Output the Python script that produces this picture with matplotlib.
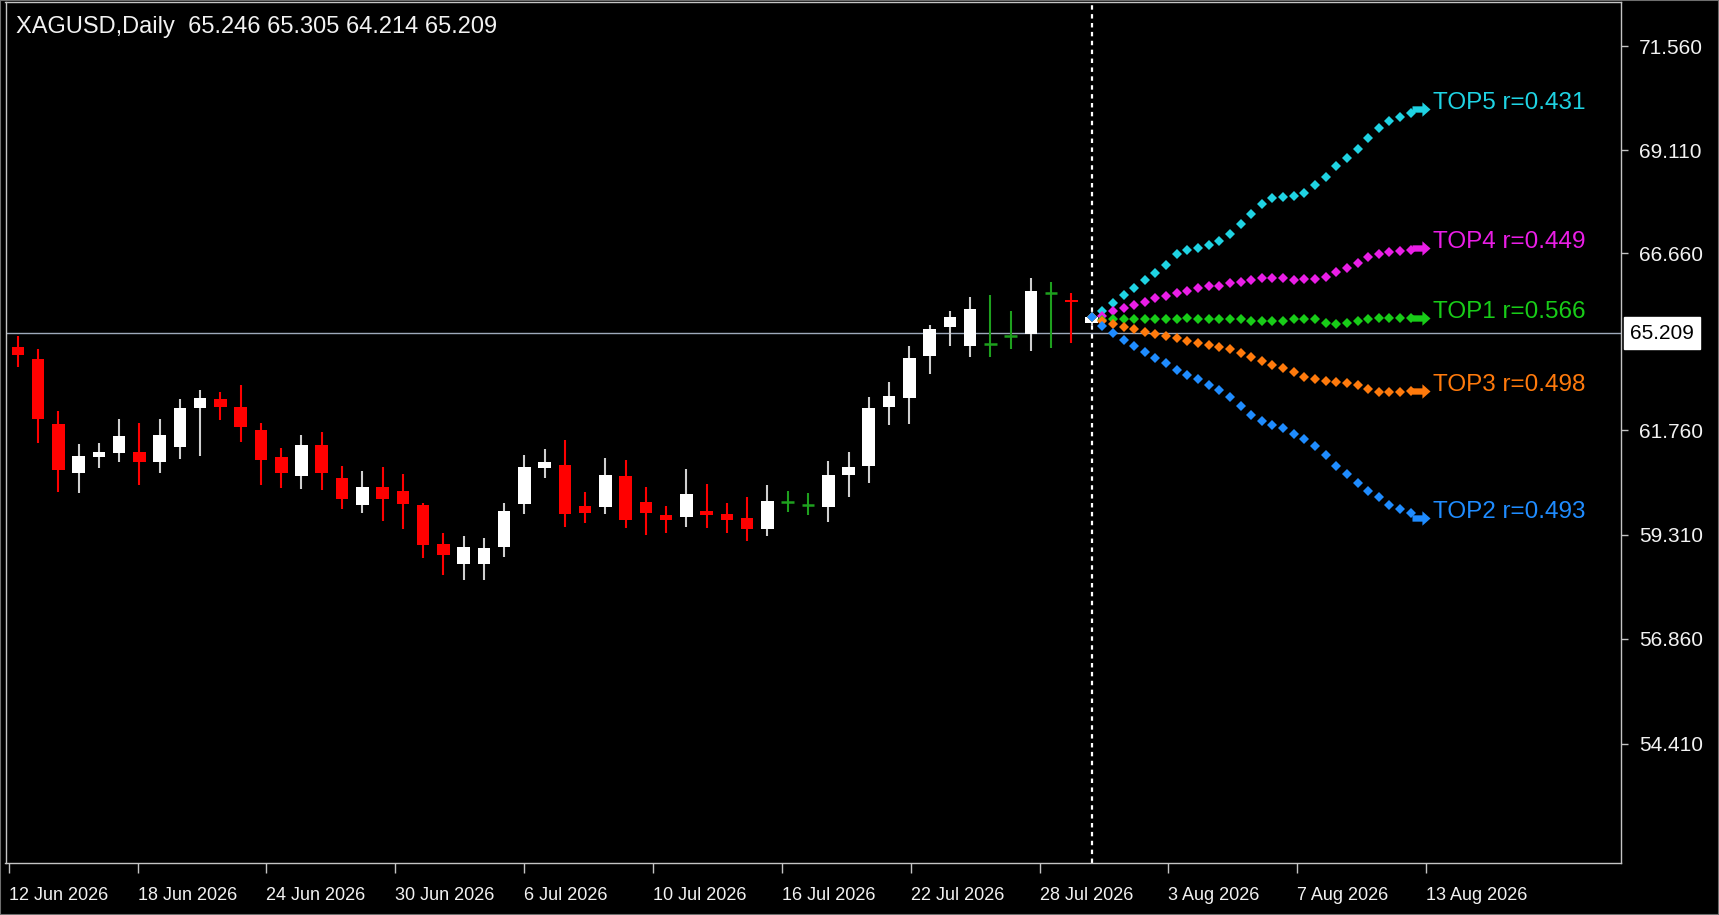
import numpy as np
import matplotlib
matplotlib.use("Agg")
import matplotlib.pyplot as plt
from matplotlib.path import Path
from matplotlib.patches import Rectangle

# ---- data --------------------------------------------------------------
title = "XAGUSD,Daily  65.246 65.305 64.214 65.209"
last_price = 65.209

date_labels = ["12 Jun 2026", "18 Jun 2026", "24 Jun 2026", "30 Jun 2026",
               "6 Jul 2026", "10 Jul 2026", "16 Jul 2026", "22 Jul 2026",
               "28 Jul 2026", "3 Aug 2026", "7 Aug 2026", "13 Aug 2026"]

y_ticks = [54.41, 56.86, 59.31, 61.76, 66.66, 69.11, 71.56]

opens = [64.72, 64.28, 61.96, 60.76, 61.14, 61.23, 61.25, 61.02, 61.36, 62.53,
         62.86, 62.57, 61.76, 61.14, 60.69, 61.41, 60.63, 60.01, 60.42, 60.34,
         60.01, 59.09, 58.63, 58.63, 59.03, 60.03, 60.87, 60.94, 59.99, 59.97,
         60.69, 60.09, 59.78, 59.72, 59.88, 59.79, 59.71, 59.44, 60.09, 60.00,
         59.97, 60.70, 60.93, 62.58, 62.89, 64.39, 65.32, 64.75, 64.82, 65.12,
         65.17, 65.93, 65.81, 65.40]
highs = [65.10, 64.63, 62.45, 61.43, 61.46, 62.15, 62.00, 62.14, 62.86, 63.18,
         63.12, 63.36, 62.02, 61.33, 61.64, 61.71, 60.93, 60.81, 60.90, 60.73,
         60.05, 59.35, 59.29, 59.23, 60.06, 61.18, 61.31, 61.53, 60.32, 61.11,
         61.06, 60.42, 59.99, 60.84, 60.50, 60.06, 60.20, 60.47, 60.34, 60.30,
         61.04, 61.25, 62.92, 63.48, 64.75, 65.35, 65.60, 65.87, 65.90, 65.60,
         66.20, 66.14, 65.94, 65.57]
lows = [64.00, 61.45, 60.32, 60.28, 60.87, 61.01, 60.48, 60.76, 61.08, 61.15,
        62.12, 61.49, 60.48, 60.40, 60.38, 60.36, 59.91, 59.82, 59.64, 59.44,
        58.76, 58.37, 58.25, 58.25, 58.80, 59.80, 60.65, 59.50, 59.58, 59.79,
        59.48, 59.31, 59.36, 59.50, 59.47, 59.36, 59.17, 59.29, 59.84, 59.78,
        59.61, 60.20, 60.53, 61.94, 61.97, 63.74, 64.75, 64.37, 64.37, 64.63,
        64.58, 64.67, 64.84, 65.35]
closes = [64.43, 62.14, 60.83, 61.15, 61.24, 61.61, 61.02, 61.65, 62.53, 62.89,
          62.57, 61.88, 61.06, 60.75, 61.41, 60.75, 60.15, 60.44, 60.14, 60.03,
          59.07, 58.84, 59.03, 59.01, 59.87, 60.90, 61.01, 59.79, 59.83, 60.71,
          59.66, 59.82, 59.66, 60.27, 59.78, 59.66, 59.45, 60.10, 60.09, 60.00,
          60.71, 60.90, 62.54, 62.96, 64.31, 65.28, 65.50, 65.64, 64.82, 65.12,
          65.97, 65.93, 65.78, 65.50]

# forecast paths (after the last bar)
top5 = [65.60, 65.75, 65.90, 66.03, 66.17, 66.30, 66.44, 66.64, 66.73, 66.79,
        66.85, 66.95, 67.12, 67.35, 67.58, 67.83, 67.96, 68.00, 68.02, 68.10,
        68.28, 68.47, 68.74, 68.93, 69.13, 69.39, 69.64, 69.80, 69.89, 69.99,
        70.09]
top4 = [65.52, 65.60, 65.66, 65.72, 65.78, 65.84, 65.89, 65.93, 65.97, 66.02,
        66.06, 66.07, 66.11, 66.14, 66.17, 66.21, 66.21, 66.20, 66.18, 66.19,
        66.19, 66.23, 66.31, 66.39, 66.48, 66.58, 66.64, 66.68, 66.71, 66.73,
        66.77]
top1 = [65.45, 65.46, 65.46, 65.46, 65.46, 65.46, 65.46, 65.46, 65.48, 65.46,
        65.46, 65.46, 65.46, 65.46, 65.43, 65.42, 65.42, 65.43, 65.46, 65.46,
        65.46, 65.40, 65.38, 65.39, 65.43, 65.46, 65.49, 65.49, 65.49, 65.49,
        65.49]
top3 = [65.43, 65.37, 65.32, 65.28, 65.23, 65.18, 65.11, 65.02, 64.94, 64.86,
        64.78, 64.71, 64.63, 64.49, 64.37, 64.22, 64.08, 63.95, 63.81, 63.66,
        63.57, 63.51, 63.48, 63.44, 63.35, 63.23, 63.12, 63.10, 63.11, 63.14,
        63.16]
top2 = [65.34, 65.21, 64.96, 64.75, 64.52, 64.32, 64.13, 63.91, 63.72, 63.57,
        63.36, 63.18, 62.93, 62.61, 62.29, 62.09, 61.94, 61.82, 61.67, 61.54,
        61.39, 61.18, 60.92, 60.73, 60.53, 60.34, 60.20, 60.01, 59.91, 59.82,
        59.70]

fc_names = ["TOP5", "TOP4", "TOP1", "TOP3", "TOP2"]
fc_r = [0.431, 0.449, 0.566, 0.498, 0.493]
fc_series = [top5, top4, top1, top3, top2]
fc_colors = ["#1fd3e3", "#ea1ee6", "#18cc18", "#ff7a0c", "#1f8cff"]

# ---- price scale of the screenshot (not linear around the bid line) -----
scale_vals = [54.41, 56.86, 59.31, 61.76, 65.209, 66.66, 69.11, 71.56]
scale_px = [-744, -639, -535, -430, -333, -253, -150, -46]


def _pw(v, xp, fp):
    v = np.asarray(v, dtype=float)
    out = np.interp(v, xp, fp)
    lo = (fp[1] - fp[0]) / (xp[1] - xp[0])
    hi = (fp[-1] - fp[-2]) / (xp[-1] - xp[-2])
    out = np.where(v < xp[0], fp[0] + (v - xp[0]) * lo, out)
    out = np.where(v > xp[-1], fp[-1] + (v - xp[-1]) * hi, out)
    return out


def fwd(v):
    return _pw(v, scale_vals, scale_px)


def inv(p):
    return _pw(p, scale_px, scale_vals)


plt.rcParams["font.family"] = ["Liberation Sans", "DejaVu Sans"]

W, H = 1719, 915
fig = plt.figure(figsize=(W / 100, H / 100), dpi=100, facecolor="black")
ax = fig.add_axes([5.5 / W, 1 - 863 / H, (1621 - 5.5) / W, (863 - 2) / H])
ax.set_facecolor("black")
ax.set_yscale("function", functions=(fwd, inv))

o, h, l, c = map(np.array, (opens, highs, lows, closes))
x = np.arange(len(c))
up, dn, eq = c > o, c < o, c == o
body_w = 0.62

wick_cols = np.where(up, "#cfcfcf", np.where(dn, "#ff0000", "#1ea01e"))
ax.vlines(x, l, h, colors=wick_cols, lw=1.5, zorder=2)
ax.bar(x[up], (c - o)[up], bottom=o[up], width=body_w, color="white", lw=0, zorder=3)
ax.bar(x[dn], (o - c)[dn], bottom=c[dn], width=body_w, color="#ff0000", lw=0, zorder=3)
ax.hlines(c[eq], x[eq] - body_w / 2, x[eq] + body_w / 2, colors="#1ea01e", lw=1.8, zorder=3)

# bid line and the separator at the current bar
ax.axhline(last_price, color="#9ea9bb", lw=1, zorder=1)
ax.axvline(x[-1], color="white", lw=1.6, ls=(0, (2, 2)), zorder=1)

# forecast dots
arrow = Path([(-1, -0.35), (0.1, -0.35), (0.1, -0.8), (1, 0), (0.1, 0.8),
              (0.1, 0.35), (-1, 0.35), (-1, -0.35)], closed=True)
fx = x[-1] + 0.525 * np.arange(len(top1) + 1)
for name, r, vals, col in zip(fc_names, fc_r, fc_series, fc_colors):
    y = np.r_[c[-1], vals]
    ax.plot(fx[:-1], y[:-1], ls="none", marker="D", ms=4.8, color=col, mew=0, zorder=4)
    ax.plot(fx[-1], y[-1], ls="none", marker=arrow, ms=13, color=col, mew=0, zorder=4)
    ax.annotate(f"{name} r={r:.3f}", (fx[-1], y[-1]), xytext=(12, 6),
                textcoords="offset pixels", color=col, fontsize=17.5,
                ha="left", va="center")

# axes cosmetics
ax.set_xlim(-0.61, 79.13)
ax.set_ylim(51.63, 72.60)
for s in ax.spines.values():
    s.set_color("#c4c4c4")
    s.set_linewidth(1)

tick_pos = -0.45 + 6.36 * np.arange(len(date_labels))
ax.set_xticks(tick_pos, date_labels, ha="left")
ax.yaxis.tick_right()
ax.set_yticks(y_ticks, [f"{v:.3f}" for v in y_ticks])
ax.minorticks_off()
ax.tick_params(axis="x", colors="#c4c4c4", labelcolor="#f2f2f2", length=7,
               width=1, labelsize=13, pad=10)
ax.tick_params(axis="y", colors="#c4c4c4", labelcolor="#f2f2f2", length=5,
               width=1, labelsize=15, pad=8)

ax.annotate(f"{last_price:.3f}", xy=(1, last_price), xycoords=("axes fraction", "data"),
            xytext=(9, 0), textcoords="offset pixels", ha="left", va="center",
            color="black", fontsize=15,
            bbox=dict(boxstyle="square,pad=0.3", fc="white", ec="white"))

fig.text(16 / W, 1 - 27 / H, title, color="#f2f2f2", fontsize=17,
         ha="left", va="center")
fig.patches.append(Rectangle((0, 0), 1, 1, transform=fig.transFigure,
                             fill=False, ec="#6e6e6e", lw=1.5))

fig.savefig("out.png", dpi=100, facecolor="black")
